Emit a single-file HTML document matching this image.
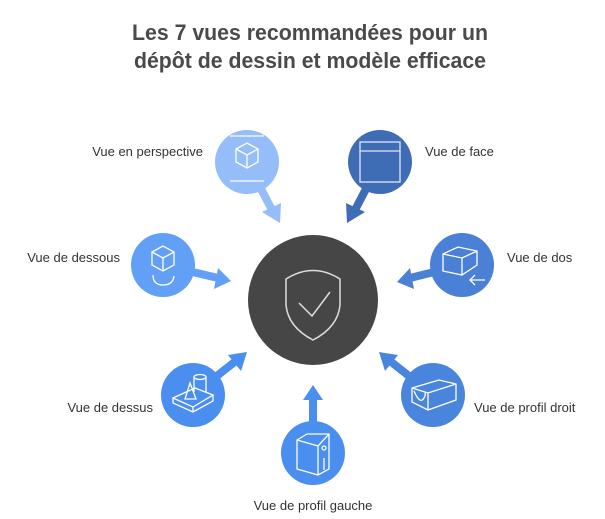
<!DOCTYPE html>
<html><head><meta charset="utf-8"><style>
html,body{margin:0;padding:0;background:#fff;width:605px;height:519px;overflow:hidden}
svg{display:block}
text{font-family:"Liberation Sans",sans-serif}
</style></head><body>
<svg width="605" height="519" viewBox="0 0 605 519" xmlns="http://www.w3.org/2000/svg">
<text x="310" y="40" text-anchor="middle" font-size="22" font-weight="bold" fill="#4a4a4a" textLength="356" lengthAdjust="spacingAndGlyphs">Les 7 vues recommandées pour un</text>
<text x="310" y="68" text-anchor="middle" font-size="22" font-weight="bold" fill="#4a4a4a" textLength="352" lengthAdjust="spacingAndGlyphs">dépôt de dessin et modèle efficace</text>

<!-- arrows -->
<g>
<line x1="247" y1="162" x2="272" y2="210" stroke="#94bdf9" stroke-width="8"/>
<polygon points="280,223 262,212 281,203" fill="#94bdf9"/>
<line x1="380" y1="162" x2="355" y2="210" stroke="#3f6db5" stroke-width="8"/>
<polygon points="347,223 346,203 365,212" fill="#3f6db5"/>
<line x1="163" y1="265" x2="218" y2="278" stroke="#62a0f8" stroke-width="8"/>
<polygon points="231,281 214,289 218,268" fill="#62a0f8"/>
<line x1="462" y1="265" x2="410" y2="278" stroke="#4a80d6" stroke-width="8"/>
<polygon points="397,282 410,268 414,289" fill="#4a80d6"/>
<line x1="193" y1="395" x2="237" y2="360" stroke="#4a8ef0" stroke-width="8"/>
<polygon points="247,352 241,371 228,355" fill="#4a8ef0"/>
<line x1="313" y1="453" x2="313" y2="398" stroke="#4a8ef0" stroke-width="8"/>
<polygon points="313,385 323,400 303,400" fill="#4a8ef0"/>
<line x1="433" y1="395" x2="390" y2="361" stroke="#4a85dd" stroke-width="8"/>
<polygon points="379,352 398,355 385,371" fill="#4a85dd"/>
</g>

<!-- center -->
<circle cx="313" cy="300" r="65" fill="#464646"/>
<path d="M286,279 Q313,262 340,279 L340,305 Q338,327 313,340 Q288,327 286,305 Z" fill="none" stroke="#ddd" stroke-width="1.5"/>
<path d="M299,303 L312,316 L330,292" fill="none" stroke="#ddd" stroke-width="1.5"/>

<!-- nodes -->
<circle cx="247" cy="162" r="32" fill="#94bdf9"/>
<g fill="none" stroke="#fff" stroke-width="1.3">
<path d="M236,149 L247,143 L258,149 L258,162 L247,168 L236,162 Z M236,149 L247,155 L258,149 M247,155 L247,168"/>
<line x1="230" y1="136" x2="264" y2="136"/><line x1="230" y1="181" x2="264" y2="181"/>
</g>
<circle cx="380" cy="162" r="32" fill="#3f6db5"/>
<g fill="none" stroke="#dfe8f7" stroke-width="1.3"><rect x="360" y="142" width="40" height="40"/><line x1="360" y1="151" x2="400" y2="151"/></g>

<circle cx="163" cy="265" r="32" fill="#62a0f8"/>
<g fill="none" stroke="#fff" stroke-width="1.3">
<path d="M152,252 L163,246 L174,252 L174,265 L163,271 L152,265 Z M152,252 L163,258 L174,252 M163,258 L163,271"/>
<path d="M153,275 Q153,285 163,285 Q173,285 174,276"/>
</g>
<circle cx="462" cy="265" r="32" fill="#4a80d6"/>
<g fill="none" stroke="#fff" stroke-width="1.3">
<path d="M443,254 L458,247 L477,251 L477,265 L462,275 L443,271 Z M443,254 L462,258 L477,251 M462,258 L462,275"/>
<path d="M470,280 L485,280 M475,275 L470,280 L475,285"/>
</g>
<circle cx="193" cy="395" r="32" fill="#4a8ef0"/>
<g fill="none" stroke="#fff" stroke-width="1.3">
<path d="M173,398 L195,388 L213,395 L193,407 Z M173,398 L173,403 L193,412 L213,401 L213,395 M193,407 L193,412"/>
<path d="M190,383 L185,399 L196,399 Z"/>
<ellipse cx="200" cy="377" rx="6" ry="2.5"/><path d="M194,377 L194,392 M206,377 L206,392"/>
</g>
<circle cx="313" cy="453" r="32" fill="#4a8ef0"/>
<g fill="none" stroke="#fff" stroke-width="1.3">
<path d="M297,440 L307,434 L329,434 L329,469 L318,475 L297,469 Z M297,440 L318,446 L329,434 M318,446 L318,475"/>
<circle cx="324" cy="448" r="2"/><line x1="324" y1="458" x2="324" y2="470"/>
</g>
<circle cx="433" cy="395" r="32" fill="#4a85dd"/>
<g fill="none" stroke="#fff" stroke-width="1.3">
<path d="M412,388 L439,380 L456,384 L456,400 L428,410 L412,402 Z M412,388 L428,393 L456,384 M428,393 L428,410"/>
<path d="M414,391 Q420,405 424,398 Q426,394 425,392"/>
</g>

<!-- labels -->
<g font-size="13" fill="#333">
<text x="203" y="156" text-anchor="end">Vue en perspective</text>
<text x="425" y="156">Vue de face</text>
<text x="120" y="262" text-anchor="end">Vue de dessous</text>
<text x="507" y="262">Vue de dos</text>
<text x="153" y="412" text-anchor="end">Vue de dessus</text>
<text x="474" y="412">Vue de profil droit</text>
<text x="313" y="510" text-anchor="middle">Vue de profil gauche</text>
</g>
</svg>
</body></html>
